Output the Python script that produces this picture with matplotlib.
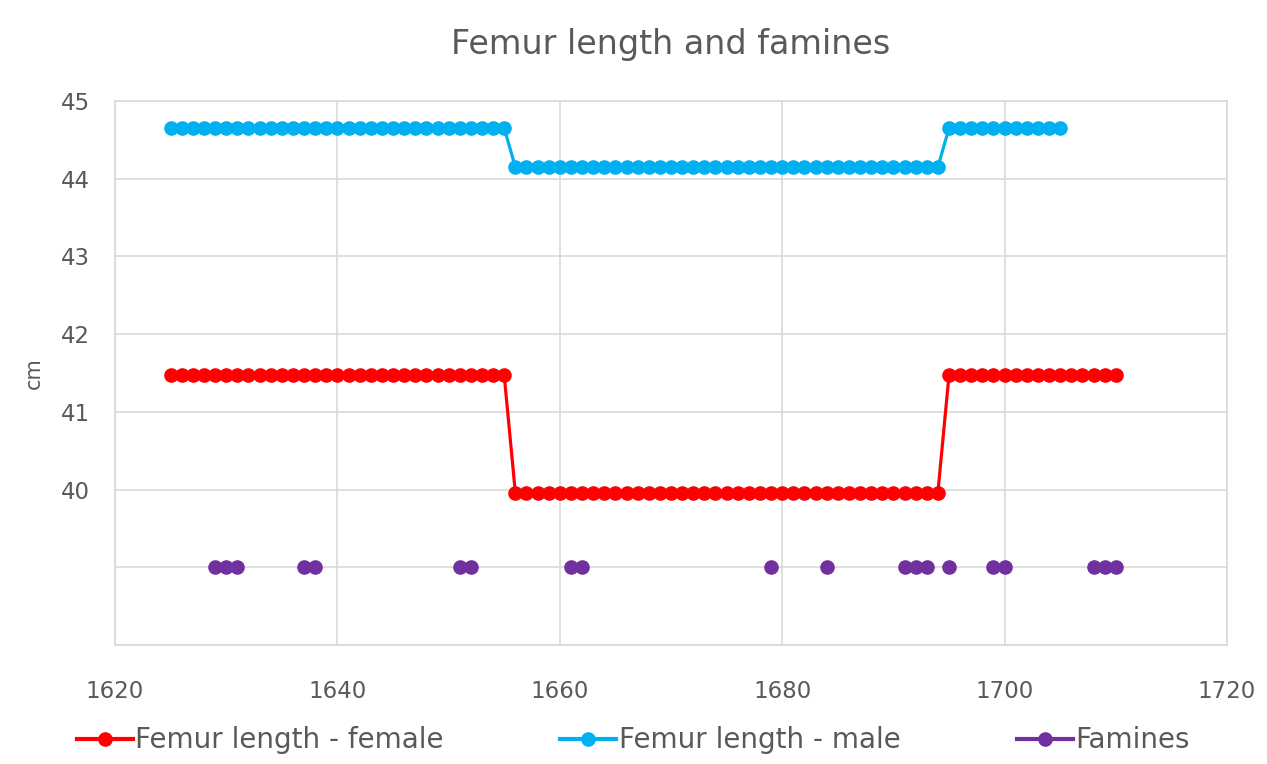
import numpy as np
import matplotlib.pyplot as plt
from matplotlib.ticker import FixedLocator, FuncFormatter
from matplotlib.lines import Line2D

plt.rcParams['font.family'] = ['DejaVu Sans']

# femur length data
fem_years = list(range(1625, 1711))
fem_vals = [41.47] * 31 + [39.96] * 39 + [41.47] * 16

male_years = list(range(1625, 1706))
male_vals = [44.65] * 31 + [44.15] * 39 + [44.65] * 11

famine_years = [1629, 1630, 1631, 1637, 1638, 1651, 1652, 1661, 1662, 1679,
                1684, 1691, 1692, 1693, 1695, 1699, 1700, 1708, 1709, 1710]
famine_vals = [39] * len(famine_years)

txt = '#595959'
fig = plt.figure(figsize=(12.67, 7.64), dpi=100)
ax = fig.add_axes([0.0908, 0.1558, 0.8776, 0.712])

ax.plot(fem_years, fem_vals, color='#FF0000', lw=2.3, marker='o', ms=9.5,
        label='Femur length - female', zorder=3)
ax.plot(male_years, male_vals, color='#00B0F0', lw=2.3, marker='o', ms=9.5,
        label='Femur length - male', zorder=3)
ax.plot(famine_years, famine_vals, color='#7030A0', lw=0, marker='o', ms=9.5,
        label='Famines', zorder=3)

ax.set_xlim(1620, 1720)
ax.set_ylim(38, 45)
ax.set_xticks(range(1620, 1721, 20))
ax.yaxis.set_major_locator(FixedLocator(range(38, 46)))
ax.yaxis.set_major_formatter(FuncFormatter(lambda v, p: '' if v < 40 else '%d' % v))
ax.grid(True, color='#D9D9D9', lw=1.2)
ax.set_axisbelow(True)
for s in ax.spines.values():
    s.set_color('#D9D9D9')
    s.set_linewidth(1.2)
ax.tick_params(length=0, labelsize=16.5, colors=txt)
ax.tick_params(axis='x', pad=25)
ax.tick_params(axis='y', pad=18)
ax.set_ylabel('cm', fontsize=15, color=txt, labelpad=12)
ax.set_title('Femur length and famines', fontsize=24, color=txt, pad=34)

# legend, line handles with marker in middle
handles = [Line2D([], [], color=c, lw=3, marker='o', ms=9.5) for c in ['#FF0000', '#00B0F0', '#7030A0']]
fig.legend(handles, ['Femur length - female', 'Femur length - male', 'Famines'],
           loc='lower center', bbox_to_anchor=(0.5, -0.02), ncol=3, frameon=False,
           fontsize=20, labelcolor=txt, handlelength=2.0, handletextpad=0.1,
           columnspacing=4.2)

fig.savefig('out.png', dpi=100)
